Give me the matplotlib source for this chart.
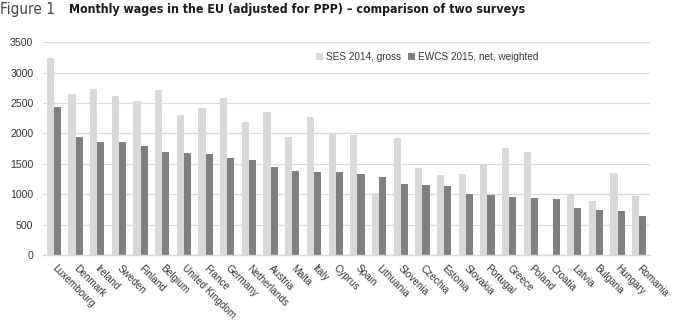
import matplotlib
matplotlib.use("Agg")
import matplotlib.pyplot as plt
import matplotlib.transforms as mtransforms
import numpy as np

countries = ["Luxembourg", "Denmark", "Ireland", "Sweden", "Finland", "Belgium",
             "United Kingdom", "France", "Germany", "Netherlands", "Austria", "Malta",
             "Italy", "Cyprus", "Spain", "Lithuania", "Slovenia", "Czechia", "Estonia",
             "Slovakia", "Portugal", "Greece", "Poland", "Croatia", "Latvia", "Bulgaria",
             "Hungary", "Romania"]
ses_2014 = [3242, 2651, 2727, 2618, 2536, 2717, 2300, 2415, 2580, 2185, 2355, 1939,
            2268, 2005, 1977, 1024, 1922, 1429, 1325, 1336, 1501, 1769, 1698, np.nan,
            997, 882, 1347, 969]
ewcs_2015 = [2437, 1944, 1857, 1857, 1796, 1703, 1687, 1660, 1594, 1566, 1451, 1386,
             1364, 1364, 1331, 1287, 1172, 1156, 1128, 997, 986, 958, 942, 915,
             772, 745, 717, 646]
yticks = [0, 500, 1000, 1500, 2000, 2500, 3000, 3500]

body_font = ["Liberation Sans", "DejaVu Sans"]
fs = 7.2

light = "#d9d9d9"
dark = "#808080"
txt = "#333333"

fig = plt.figure(figsize=(6.99, 3.31), dpi=100)
ax = fig.add_axes([0.0615, 0.2296, 0.8685, 0.6424])

x = np.arange(len(countries))
w = 0.33
ax.bar(x - w / 2, ses_2014, width=w, color=light, label="SES 2014, gross", zorder=2)
ax.bar(x + w / 2, ewcs_2015, width=w, color=dark, label="EWCS 2015, net, weighted", zorder=2)

ax.set_xlim(-0.5, len(countries) - 0.5)
ax.set_ylim(0, 3500)
ax.set_yticks(yticks)
ax.set_yticklabels([str(v) for v in yticks], fontsize=fs + 0.4, family=body_font, color=txt)
ax.yaxis.grid(True, color="#d9d9d9", linewidth=0.9, zorder=0)
ax.tick_params(axis="both", length=0, pad=7)
for s in ["top", "right", "left"]:
    ax.spines[s].set_visible(False)
ax.spines["bottom"].set_color("#d9d9d9")
ax.spines["bottom"].set_linewidth(1.0)

ax.set_xticks(x)
ax.set_xticklabels(countries, rotation=-45, ha="left", va="top",
                   rotation_mode="anchor", fontsize=fs, family=body_font, color=txt)
ax.tick_params(axis="x", pad=6)
offset = mtransforms.ScaledTranslation(3 / 100, 0, fig.dpi_scale_trans)
for lab in ax.get_xticklabels():
    lab.set_transform(lab.get_transform() + offset)

leg = ax.legend(loc="upper left", bbox_to_anchor=(0.435, 0.995), ncol=2, frameon=False,
                handlelength=0.7, handleheight=0.7, handletextpad=0.3, columnspacing=0.7,
                prop={"family": body_font, "size": fs})
for t in leg.get_texts():
    t.set_color(txt)

fig.text(0.0, 0.972, "Figure 1", fontsize=11, family="DejaVu Sans", fontstretch="condensed",
         color="#444444", va="center", ha="left")
fig.text(0.098, 0.972, "Monthly wages in the EU (adjusted for PPP) \u2013 comparison of two surveys",
         fontsize=8.9, family="DejaVu Sans", fontstretch="condensed", weight="bold",
         color="#1a1a1a", va="center", ha="left")

fig.savefig("out.png", dpi=100)
